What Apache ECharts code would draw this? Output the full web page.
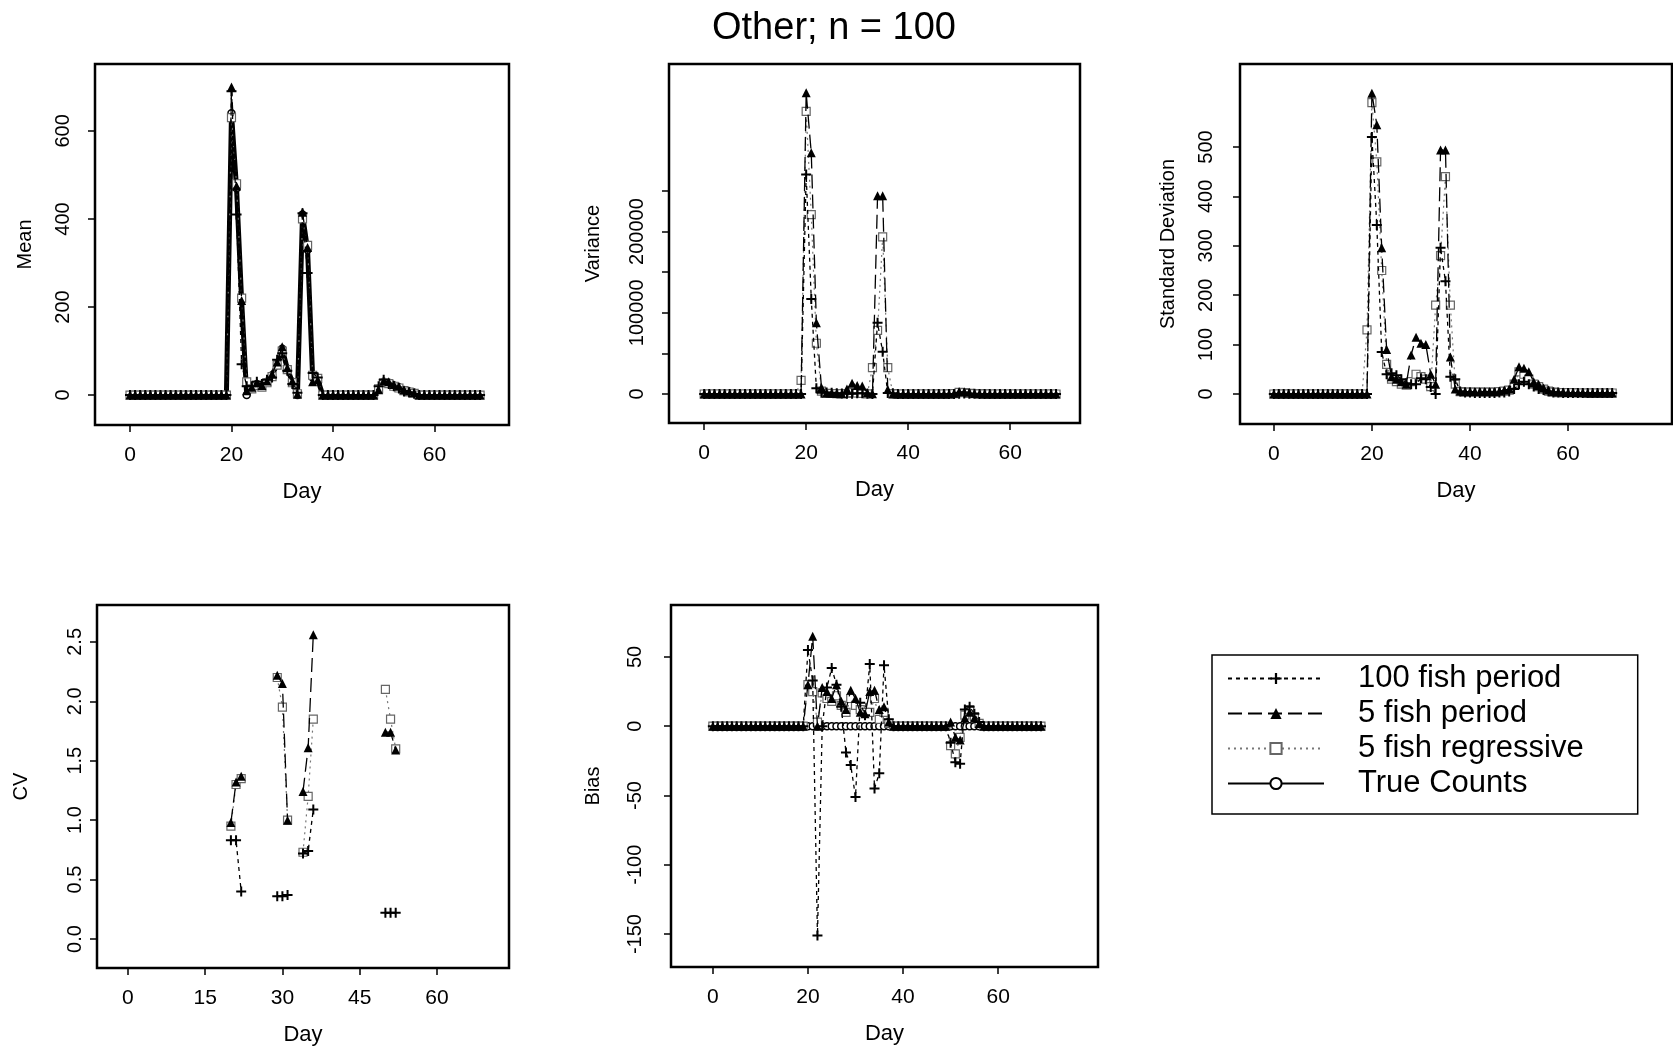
<!DOCTYPE html>
<html><head><meta charset="utf-8">
<script src="https://cdn.jsdelivr.net/npm/echarts@6/dist/echarts.min.js"></script>
<style>html,body{margin:0;padding:0;background:#fff}#c{width:1673px;height:1047px}</style>
</head><body><div id="c"></div>
<script>
// ---------------- data ----------------
const seriesNames = ['100 fish period', '5 fish period', '5 fish regressive', 'True Counts'];
const days = [0,1,2,3,4,5,6,7,8,9,10,11,12,13,14,15,16,17,18,19,20,21,22,23,24,25,26,27,28,29,30,31,32,33,34,35,36,37,38,39,40,41,42,43,44,45,46,47,48,49,50,51,52,53,54,55,56,57,58,59,60,61,62,63,64,65,66,67,68,69];

// Mean
const meanTrue = [0,0,0,0,0,0,0,0,0,0, 0,0,0,0,0,0,0,0,0,0,
  640,470,215,0,15,25,20,30,45,70, 105,60,30,0,410,330,40,35,0,0,
  0,0,0,0,0,0,0,0,0,15, 30,28,22,18,10,8,5,0,0,0, 0,0,0,0,0,0,0,0,0,0];
const mean100 = [0,0,0,0,0,0,0,0,0,0, 0,0,0,0,0,0,0,0,0,0,
  690,410,70,20,20,30,25,35,40,80, 95,55,25,5,413,277,50,40,0,0,
  0,0,0,0,0,0,0,0,0,20, 35,25,20,15,8,6,3,0,0,0, 0,0,0,0,0,0,0,0,0,0];
const mean5p = [0,0,0,0,0,0,0,0,0,0, 0,0,0,0,0,0,0,0,0,0,
  700,475,215,10,18,28,22,32,48,75, 110,62,32,2,415,335,30,35,0,0,
  0,0,0,0,0,0,0,0,0,12, 32,30,24,20,12,9,6,0,0,0, 0,0,0,0,0,0,0,0,0,0];
const mean5r = [0,0,0,0,0,0,0,0,0,0, 0,0,0,0,0,0,0,0,0,0,
  630,480,220,30,14,22,18,28,42,68, 100,58,28,3,400,340,45,38,0,0,
  0,0,0,0,0,0,0,0,0,14, 28,26,20,16,10,7,4,0,0,0, 0,0,0,0,0,0,0,0,0,0];

// Variance
const var100 = [0,0,0,0,0,0,0,0,0,0, 0,0,0,0,0,0,0,0,0,0,
  270400,116964,7225,1600,1764,1444,900,484,400,400,
  1024,900,196,0,87616,51984,1225,900,25,9,
  9,4,4,4,4,4,9,9,25,100, 400,625,400,225,100,64,25,9,9,4, 4,4,4,4,4,4,4,4,4,4];
const var5p = [0,0,0,0,0,0,0,0,0,0, 0,0,0,0,0,0,0,0,0,0,
  370881,297025,87616,8100,1225,900,625,400,6241,13225,
  10609,10000,1600,400,244036,244036,5625,100,36,25,
  25,25,25,25,25,25,36,64,100,900, 3025,2704,2025,625,400,144,64,25,16,16, 9,9,9,9,4,4,4,4,4,4];
const var5r = [0,0,0,0,0,0,0,0,0,0, 0,0,0,0,0,0,0,0,0,16900,
  348100,220900,62500,3600,900,625,400,324,625,1600,
  1225,900,225,32400,78400,193600,32400,400,25,16,
  16,16,16,16,16,16,25,36,64,400, 2025,1600,900,400,225,100,36,16,9,9, 9,9,4,4,4,4,4,4,4,4];

// Standard deviation
const sd100 = [0,0,0,0,0,0,0,0,0,0, 0,0,0,0,0,0,0,0,0,0,
  520,342,85,40,42,38,30,22,20,20, 32,30,14,0,296,228,35,30,5,3,
  3,2,2,2,2,2,3,3,5,10, 20,25,20,15,10,8,5,3,3,2, 2,2,2,2,2,2,2,2,2,2];
const sd5p = [0,0,0,0,0,0,0,0,0,0, 0,0,0,0,0,0,0,0,0,0,
  609,545,296,90,35,30,25,20,79,115, 103,100,40,20,494,494,75,10,6,5,
  5,5,5,5,5,5,6,8,10,30, 55,52,45,25,20,12,8,5,4,4, 3,3,3,3,2,2,2,2,2,2];
const sd5r = [0,0,0,0,0,0,0,0,0,0, 0,0,0,0,0,0,0,0,0,130,
  590,470,250,60,30,25,20,18,25,40, 35,30,15,180,280,440,180,20,5,4,
  4,4,4,4,4,4,5,6,8,20, 45,40,30,20,15,10,6,4,3,3, 3,3,2,2,2,2,2,2,2,2];

// CV (only days with estimates; null breaks the line)
const cvDays = [20,21,22,23,29,30,31,32,34,35,36,37,50,51,52];
const cv100 = [0.83,0.83,0.40,null, 0.36,0.36,0.37,null, 0.72,0.74,1.09,null, 0.22,0.22,0.22];
const cv5p  = [0.98,1.32,1.37,null, 2.22,2.15,1.00,null, 1.24,1.61,2.56,null, 1.74,1.74,1.59];
const cv5r  = [0.95,1.30,1.35,null, 2.20,1.95,1.00,null, 0.73,1.20,1.85,null, 2.10,1.85,1.60];

// Bias
const biasTrue = [0,0,0,0,0,0,0,0,0,0, 0,0,0,0,0,0,0,0,0,0, 0,0,0,0,0,0,0,0,0,0,
  0,0,0,0,0,0,0,0,0,0, 0,0,0,0,0,0,0,0,0,0, 0,0,0,0,0,0,0,0,0,0, 0,0,0,0,0,0,0,0,0,0];
const bias100 = [0,0,0,0,0,0,0,0,0,0, 0,0,0,0,0,0,0,0,0,0,
  55,33,-151,0,28,42,30,14,-19,-28, -51,17,8,45,-45,-34,44,5,0,0,
  0,0,0,0,0,0,0,0,0,0, -12,-26,-27,12,14,9,3,0,0,0, 0,0,0,0,0,0,0,0,0,0];
const bias5p = [0,0,0,0,0,0,0,0,0,0, 0,0,0,0,0,0,0,0,0,0,
  30,65,0,28,25,20,30,18,12,26, 20,10,9,25,26,12,14,3,0,0,
  0,0,0,0,0,0,0,0,0,0, 3,-8,-10,6,10,6,2,0,0,0, 0,0,0,0,0,0,0,0,0,0];
const bias5r = [0,0,0,0,0,0,0,0,0,0, 0,0,0,0,0,0,0,0,0,0,
  30,25,3,24,20,18,22,15,10,20, 15,12,10,10,20,5,10,2,0,0,
  0,0,0,0,0,0,0,0,0,0, -14,-20,-8,8,12,7,2,0,0,0, 0,0,0,0,0,0,0,0,0,0];

// tick values
const xTicksA = [0, 20, 40, 60];
const xTicksCV = [0, 15, 30, 45, 60];
const meanTicks = [0, 200, 400, 600];
const varTicks = [0, 50000, 100000, 150000, 200000, 250000];
const varLabels = [0, 100000, 200000];
const sdTicks = [0, 100, 200, 300, 400, 500];
const cvTicks = [0, 0.5, 1, 1.5, 2, 2.5];
const biasTicks = [50, 0, -50, -100, -150];

// ---------------- chart ----------------
const FONT = "'Liberation Sans', Arial, sans-serif";
const plusPath = 'path://M4,0H6V4H10V6H6V10H4V6H0V4H4Z';
const styles = {
  '100 fish period': {symbol: plusPath, symbolSize: 10, z: 5, itemStyle: {color: '#000'},
    lineStyle: {color: '#000', width: 1.3, type: [4, 4]}},
  '5 fish period': {symbol: 'triangle', symbolSize: 9, z: 4, itemStyle: {color: '#000'},
    lineStyle: {color: '#000', width: 1.3, type: [14, 6]}},
  '5 fish regressive': {symbol: 'rect', symbolSize: 8, z: 3, itemStyle: {color: '#fff', borderColor: '#666', borderWidth: 1.2},
    lineStyle: {color: '#777', width: 1.2, type: [2, 4]}},
  'True Counts': {symbol: 'circle', symbolSize: 7, z: 2, itemStyle: {color: '#fff', borderColor: '#000', borderWidth: 1.5},
    lineStyle: {color: '#000', width: 5, type: 'solid'}}
};
function mk(gi, name, xs, ys) {
  const st = styles[name];
  return Object.assign({
    type: 'line', name: name, xAxisIndex: gi, yAxisIndex: gi,
    data: xs.map((x, i) => [x, ys[i]]), showSymbol: true, connectNulls: false,
    animation: false, silent: true
  }, JSON.parse(JSON.stringify(st)));
}

const grids = [
  {left: 95, top: 64, width: 414, height: 361},
  {left: 669, top: 64, width: 411, height: 359},
  {left: 1240, top: 64, width: 432, height: 360},
  {left: 97, top: 605, width: 412, height: 363},
  {left: 671, top: 605, width: 427, height: 362}
].map(g => Object.assign({show: true, borderColor: '#000', borderWidth: 2.5, backgroundColor: 'transparent'}, g));

function xAx(gi, min, max, ticks) {
  return {type: 'value', gridIndex: gi, min: min, max: max, name: 'Day', nameLocation: 'middle', nameGap: 56,
    nameTextStyle: {fontSize: 22, color: '#000', fontFamily: FONT},
    axisLine: {show: false, onZero: false}, splitLine: {show: false},
    axisTick: {show: true, inside: false, length: 7, customValues: ticks, lineStyle: {color: '#000', width: 1.5}},
    axisLabel: {show: true, margin: 20, fontSize: 21, color: '#000', fontFamily: FONT, customValues: ticks,
      formatter: v => String(v)}};
}
function yAx(gi, min, max, name, ticks, labels, fmt, gap, lmargin) {
  return {type: 'value', gridIndex: gi, min: min, max: max, name: name, nameLocation: 'middle', nameGap: gap,
    nameRotate: 90,
    nameTextStyle: {fontSize: 20, color: '#000', fontFamily: FONT},
    axisLine: {show: false, onZero: false}, splitLine: {show: false},
    axisTick: {show: true, inside: false, length: 7, customValues: ticks, lineStyle: {color: '#000', width: 1.5}},
    axisLabel: {show: true, rotate: 90, margin: lmargin, fontSize: 20, color: '#000', fontFamily: FONT,
      customValues: labels, formatter: fmt}};
}

const order = [3, 2, 1, 0];
const series = [];
order.forEach(k => series.push(mk(0, seriesNames[k], days, [mean100, mean5p, mean5r, meanTrue][k])));
[2, 1, 0].forEach(k => series.push(mk(1, seriesNames[k], days, [var100, var5p, var5r][k])));
[2, 1, 0].forEach(k => series.push(mk(2, seriesNames[k], days, [sd100, sd5p, sd5r][k])));
[2, 1, 0].forEach(k => series.push(mk(3, seriesNames[k], cvDays, [cv100, cv5p, cv5r][k])));
order.forEach(k => series.push(mk(4, seriesNames[k], days, [bias100, bias5p, bias5r, biasTrue][k])));

const option = {
  backgroundColor: '#fff',
  animation: false,
  title: {text: 'Other; n = 100', left: 829, top: 5, textAlign: 'center',
    textStyle: {fontSize: 38, fontWeight: 'normal', color: '#000', fontFamily: FONT}},
  legend: {show: true, orient: 'vertical', left: 1212, top: 655, data: seriesNames,
    borderColor: '#000', borderWidth: 1.5, padding: [8, 54, 15, 15], itemGap: 4,
    itemWidth: 96, itemHeight: 14, selectedMode: false,
    textStyle: {fontSize: 31, color: '#000', fontFamily: FONT, padding: [0, 0, 0, 29]}},
  grid: grids,
  xAxis: [
    xAx(0, -6.9, 74.7, xTicksA), xAx(1, -6.9, 73.7, xTicksA), xAx(2, -6.9, 81.2, xTicksA),
    xAx(3, -6.0, 74.0, xTicksCV), xAx(4, -8.8, 81.0, xTicksA)
  ],
  yAxis: [
    yAx(0, -68, 752, 'Mean', meanTicks, meanTicks, v => String(v), 60, 22),
    yAx(1, -35700, 406400, 'Variance', varTicks, varLabels, v => String(v), 66, 22),
    yAx(2, -60.7, 668, 'Standard Deviation', sdTicks, sdTicks, v => String(v), 62, 24),
    yAx(3, -0.244, 2.81, 'CV', cvTicks, cvTicks, v => v.toFixed(1), 66, 12),
    yAx(4, -173.8, 87.5, 'Bias', biasTicks, biasTicks, v => String(v), 68, 26)
  ],
  series: series
};
const chart = echarts.init(document.getElementById('c'), null, {renderer: 'canvas'});
chart.setOption(option);
</script></body></html>
